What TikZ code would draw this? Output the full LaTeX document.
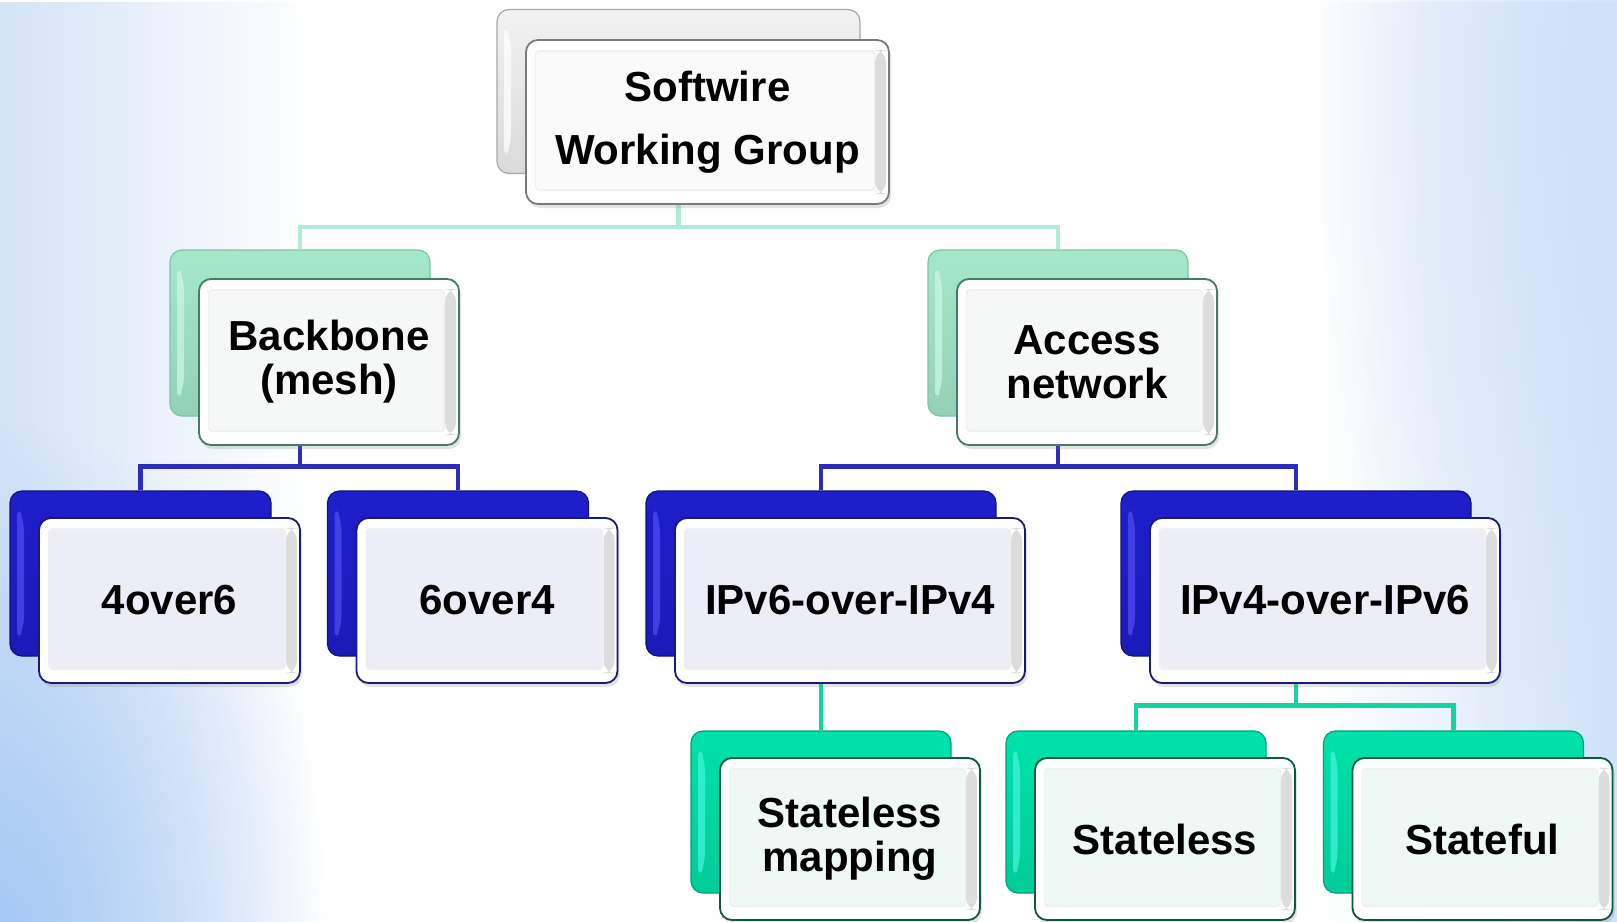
\documentclass[tikz,border=0pt]{standalone}
\usepackage{fontspec}
\setmainfont{Liberation Sans}
\usetikzlibrary{calc,fadings,shadows}

% palette
\definecolor{skyA}{HTML}{D4E4F7}
\definecolor{skyB}{HTML}{A4C8F4}
\definecolor{skyC}{HTML}{D0E2F8}
\definecolor{wireMint}{HTML}{B2ECD6}
\definecolor{wireBlue}{HTML}{2C2CBC}
\definecolor{wireGreen}{HTML}{12D6A2}
% root
\definecolor{rootMain}{HTML}{F2F2F2}
\definecolor{rootLite}{HTML}{FFFFFF}
\definecolor{rootEdge}{HTML}{A8A8A8}
\definecolor{rootLine}{HTML}{7A7A7A}
\definecolor{rootFace}{HTML}{FAFAFA}
% first level
\definecolor{mintMain}{HTML}{A4E8CA}
\definecolor{mintLite}{HTML}{CCF6E4}
\definecolor{mintEdge}{HTML}{7CC4A6}
\definecolor{mintLine}{HTML}{467A68}
\definecolor{mintFace}{HTML}{F6F8F7}
% second level
\definecolor{blueMain}{HTML}{1E1ECC}
\definecolor{blueLite}{HTML}{4C4CF0}
\definecolor{blueEdge}{HTML}{10107E}
\definecolor{blueLine}{HTML}{1B1B70}
\definecolor{blueFace}{HTML}{EDEDF8}
% third level
\definecolor{jadeMain}{HTML}{00E2AA}
\definecolor{jadeLite}{HTML}{44F2DC}
\definecolor{jadeEdge}{HTML}{00A078}
\definecolor{jadeLine}{HTML}{0B5A40}
\definecolor{jadeFace}{HTML}{EEF8F4}

\tikzfading[name=fadeR, left color=transparent!0, right color=transparent!100]
\tikzfading[name=fadeL, left color=transparent!100, right color=transparent!0]
\tikzfading[name=glow, inner color=transparent!0, outer color=transparent!100]

\pgfdeclarelayer{backdrop}
\pgfdeclarelayer{links}
\pgfsetlayers{backdrop,links,main}

\tikzset{
  caption/.style={font=\bfseries\fontsize{42}{44}\selectfont, text=black, align=center},
  % coloured card lying behind
  rear/.style n args={3}{
    rounded corners=12pt, draw=#3, line width=1.2pt, inner sep=0pt,
    top color=#1, bottom color=#1!90!black,
    path picture={
      \fill[#2, opacity=0.75]
        ($(path picture bounding box.north west)+(7,14)$) --
        ($(path picture bounding box.north west)+(14,28)$) --
        ($(path picture bounding box.south west)+(14,-28)$) --
        ($(path picture bounding box.south west)+(7,-14)$) -- cycle;
    }},
  % bevelled card in front
  front/.style 2 args={
    rounded corners=12pt, draw=#1, line width=1.8pt, inner sep=0pt,
    fill=white,
    drop shadow={shadow xshift=2pt, shadow yshift=-4pt, opacity=0.22},
    path picture={
      \shade[left color=#2, right color=black!14]
        ($(path picture bounding box.north east)+(-14,10)$) rectangle
        ($(path picture bounding box.south east)+(-3,-10)$);
      \fill[black!6, rounded corners=4pt]
        ($(path picture bounding box.north west)+(9,10)$) rectangle
        ($(path picture bounding box.south east)+(-14,-13)$);
      \fill[#2, rounded corners=4pt]
        ($(path picture bounding box.north west)+(10,12)$) rectangle
        ($(path picture bounding box.south east)+(-15,-15)$);
    }},
  sizeRoot/.style={minimum width=363pt, minimum height=164pt},
  sizeMid/.style={minimum width=260pt, minimum height=166pt},
  sizeSmall/.style={minimum width=261pt, minimum height=165pt},
  sizeWide/.style={minimum width=350pt, minimum height=165pt},
  sizeLeaf/.style={minimum width=260pt, minimum height=162pt},
  wire/.style={line width=4.5pt, draw=#1}
}

\begin{document}
\begin{tikzpicture}[x=1pt, y=-1pt]
\useasboundingbox (0,0) rectangle (1617,921);

% backdrop washes
\begin{pgfonlayer}{backdrop}
  \fill[white] (0,0) rectangle (1617,921);
  \fill[skyA, path fading=fadeR] (0,0) rectangle (310,921);
  \fill[skyB, path fading=glow] (0,940) ellipse [x radius=330pt, y radius=520pt];
  \fill[skyC, path fading=fadeL] (1320,0) rectangle (1617,921);
  \fill[skyC, path fading=glow] (1617,100) ellipse [x radius=300pt, y radius=700pt];
\end{pgfonlayer}

% root
\node[rear={rootMain}{rootLite}{rootEdge}, sizeRoot] (rootR) at (678.5,91.5) {};
\node[front={rootLine}{rootFace}, sizeRoot, caption] (root) at (707.5,122) {Softwire\\[19pt]Working Group};

% first level
\node[rear={mintMain}{mintLite}{mintEdge}, sizeMid] (bbR) at (300,333) {};
\node[front={mintLine}{mintFace}, sizeMid, caption] (bb) at (329,362) {Backbone\\(mesh)};
\node[rear={mintMain}{mintLite}{mintEdge}, sizeMid] (acR) at (1058,333) {};
\node[front={mintLine}{mintFace}, sizeMid, caption] (ac) at (1087,362) {Access\\network};

% second level
\node[rear={blueMain}{blueLite}{blueEdge}, sizeSmall] (fsR) at (140.5,573.5) {};
\node[front={blueLine}{blueFace}, sizeSmall, caption] (fs) at (169.5,600.5) {4over6};
\node[rear={blueMain}{blueLite}{blueEdge}, sizeSmall] (sfR) at (458,573.5) {};
\node[front={blueLine}{blueFace}, sizeSmall, caption] (sf) at (487,600.5) {6over4};
\node[rear={blueMain}{blueLite}{blueEdge}, sizeWide] (v64R) at (821,573.5) {};
\node[front={blueLine}{blueFace}, sizeWide, caption] (v64) at (850,600.5) {IPv6-over-IPv4};
\node[rear={blueMain}{blueLite}{blueEdge}, sizeWide] (v46R) at (1296,573.5) {};
\node[front={blueLine}{blueFace}, sizeWide, caption] (v46) at (1325,600.5) {IPv4-over-IPv6};

% third level
\node[rear={jadeMain}{jadeLite}{jadeEdge}, sizeLeaf] (smR) at (821,812) {};
\node[front={jadeLine}{jadeFace}, sizeLeaf, caption] (sm) at (850,839) {Stateless\\mapping};
\node[rear={jadeMain}{jadeLite}{jadeEdge}, sizeLeaf] (slR) at (1136,812) {};
\node[front={jadeLine}{jadeFace}, sizeLeaf, caption] (sl) at (1165,839) {Stateless};
\node[rear={jadeMain}{jadeLite}{jadeEdge}, sizeLeaf] (stR) at (1453.5,812) {};
\node[front={jadeLine}{jadeFace}, sizeLeaf, caption] (st) at (1482.5,839) {Stateful};

% tree links, drawn beneath the cards
\begin{pgfonlayer}{links}
  \draw[wire=wireMint] (rootR.south) -- ++(0,53) -| (bbR.north);
  \draw[wire=wireMint] (rootR.south) -- ++(0,53) -| (acR.north);
  \draw[wire=wireBlue] (bbR.south) -- ++(0,50) -| (fsR.north);
  \draw[wire=wireBlue] (bbR.south) -- ++(0,50) -| (sfR.north);
  \draw[wire=wireBlue] (acR.south) -- ++(0,50) -| (v64R.north);
  \draw[wire=wireBlue] (acR.south) -- ++(0,50) -| (v46R.north);
  \draw[wire=wireGreen] (v64R.south) -- (smR.north);
  \draw[wire=wireGreen] (v46R.south) -- ++(0,49) -| (slR.north);
  \draw[wire=wireGreen] (v46R.south) -- ++(0,49) -| (stR.north);
\end{pgfonlayer}
\end{tikzpicture}
\end{document}
